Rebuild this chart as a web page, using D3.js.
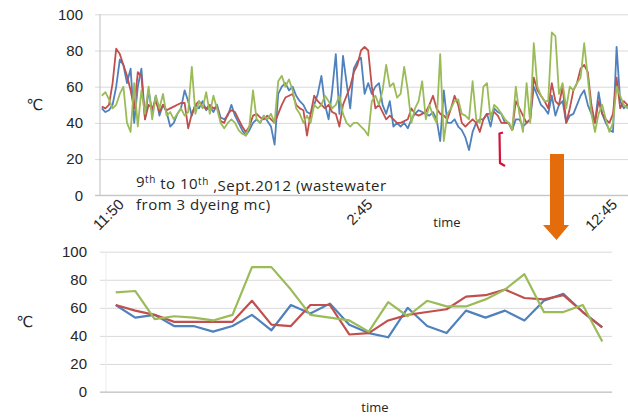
<!doctype html>
<html lang="en">
<head>
<meta charset="utf-8">
<title>Wastewater temperature</title>
<script src="https://cdn.jsdelivr.net/npm/d3@7"></script>
<style>
  body { margin: 0; background: #fff; }
  svg { display: block; font-family: "Open Sans", "DejaVu Sans", sans-serif; }
  .grid line { stroke: #d9d9d9; stroke-width: 1; }
  .grid path { display: none; }
  .lbl path, .lbl line { display: none; }
  .lbl text { fill: #262626; font-size: 15px; }
</style>
</head>
<body>
<svg width="628" height="417"></svg>
<script>
// ---- data ----
// upper chart: three machines, 9th to 10th Sept 2012
const topBlue = [
  48, 46, 47, 50, 60, 75, 72, 62, 70, 40,
  60, 70, 42, 58, 46, 55, 44, 50, 46, 38,
  40, 45, 48, 58, 52, 44, 50, 48, 52, 47,
  49, 46, 50, 43, 42, 44, 50, 44, 40, 36,
  33, 36, 40, 42, 40, 44, 41, 38, 28, 56,
  60, 62, 58, 60, 55, 52, 50, 46, 45, 50,
  56, 66, 50, 42, 58, 78, 45, 77, 62, 48,
  70, 74, 76, 56, 62, 56, 60, 62, 50, 45,
  52, 38, 40, 38, 40, 37, 42, 45, 47, 46,
  45, 44, 46, 42, 30, 58, 40, 40, 42, 38,
  36, 32, 25, 35, 40, 42, 42, 45, 38, 48,
  46, 45, 40, 40, 36, 42, 42, 38, 40, 42,
  60, 55, 50, 48, 45, 55, 44, 50, 52, 40,
  44, 45, 50, 55, 58, 50, 45, 40, 57, 45,
  40, 36, 35, 82, 52, 48, 50, 46, 50, 48
];
const topRed = [
  49, 48, 50, 62, 81, 78, 72, 66, 58, 48,
  68, 66, 42, 50, 48, 52, 46, 50, 47, 48,
  49, 50, 51, 51, 37, 45, 50, 52, 49, 48,
  50, 48, 49, 41, 40, 45, 47, 46, 42, 38,
  35, 38, 44, 45, 43, 42, 44, 42, 40, 45,
  50, 54, 55, 56, 50, 48, 47, 33, 45, 55,
  52, 50, 48, 50, 46, 45, 38, 50, 55, 60,
  68, 72, 80, 82, 80, 60, 48, 50, 46, 42,
  44, 42, 40, 40, 41, 42, 48, 45, 44, 45,
  46, 50, 55, 48, 45, 44, 42, 48, 55, 50,
  40, 38, 40, 42, 40, 35, 42, 45, 45, 46,
  44, 40, 40, 40, 36, 52, 48, 44, 40, 42,
  65, 58, 55, 52, 48, 62, 52, 50, 60, 40,
  48, 58, 62, 70, 72, 68, 50, 40, 52, 45,
  42, 40, 45, 65, 48, 52, 50, 48, 50, 47
];
const topGreen = [
  55, 57, 53, 48, 50, 56, 60, 40, 35, 62,
  38, 58, 45, 60, 42, 55, 48, 56, 44, 46,
  42, 45, 48, 44, 46, 71, 45, 52, 48, 57,
  45, 55, 48, 40, 37, 40, 42, 40, 36, 34,
  33, 38, 58, 42, 40, 44, 42, 45, 40, 63,
  66, 60, 64, 58, 48, 45, 40, 44, 40, 50,
  48, 50, 55, 52, 48, 50, 55, 45, 40, 38,
  40, 40, 38, 36, 33, 52, 55, 50, 58, 72,
  60, 62, 54, 56, 71, 58, 40, 48, 52, 63,
  42, 50, 44, 40, 78, 30, 45, 48, 52, 53,
  45, 44, 42, 63, 42, 40, 60, 62, 42, 50,
  48, 45, 42, 40, 36, 60, 45, 35, 62, 40,
  84, 60, 55, 52, 52, 90, 88, 56, 62, 48,
  60, 58, 62, 65, 84, 65, 45, 35, 45, 50,
  42, 35, 40, 60, 55, 50, 48, 52, 50, 52
];
const topTickIdx = [6, 75, 143];
const topTickLabels = ["11:50", "2:45", "12:45"];

// lower chart: the zoomed part
const botBlue  = [62, 53, 55, 47, 47, 43, 47, 55, 44, 62, 56, 63, 48, 42, 39, 60, 47, 42, 58, 53, 58, 51, 65, 70, 57, 46];
const botRed   = [62, 58, 55, 50, 50, 50, 50, 65, 48, 47, 62, 62, 41, 42, 51, 55, 57, 59, 68, 69, 73, 67, 66, 69, 57, 46];
const botGreen = [71, 72, 52, 54, 53, 51, 55, 89, 89, 73, 55, 53, 51, 43, 64, 54, 65, 61, 61, 66, 73, 84, 57, 57, 62, 36];

const yTicks = [0, 20, 40, 60, 80, 100];
const colors = { blue: "#4f81bd", red: "#c0504d", green: "#9bbb59" };

// ---- drawing ----
const svg = d3.select("svg");

function panel(opt) {
  const n = opt.series[0].values.length;
  const x = d3.scalePoint().domain(d3.range(n)).range([opt.left, opt.right]).padding(0.5);
  const y = d3.scaleLinear().domain([0, 100]).range([opt.bottom, opt.top]);

  // gridlines (with the small outside ticks)
  svg.append("g").attr("class", "grid")
    .attr("transform", "translate(" + opt.gridLeft + ",0)")
    .call(d3.axisLeft(y).tickValues(yTicks).tickSize(-(opt.gridRight - opt.gridLeft)).tickFormat(""));

  // value axis line
  svg.append("line")
    .attr("x1", opt.left).attr("x2", opt.left)
    .attr("y1", y(100)).attr("y2", y(0))
    .attr("stroke", opt.axisColor);

  // bottom axis line
  svg.append("line")
    .attr("x1", opt.gridLeft).attr("x2", opt.gridRight)
    .attr("y1", y(0)).attr("y2", y(0))
    .attr("stroke", "#bfbfbf");

  // value labels
  svg.append("g").attr("class", "lbl")
    .attr("transform", "translate(" + opt.labelX + ",0)")
    .call(d3.axisLeft(y).tickValues(yTicks).tickSize(0).tickPadding(0));

  const line = d3.line().x((d, i) => x(i)).y(d => y(d));
  opt.series.forEach(s => {
    svg.append("path")
      .datum(s.values)
      .attr("d", line)
      .attr("fill", "none")
      .attr("stroke", s.color)
      .attr("stroke-width", opt.lineWidth)
      .attr("stroke-linejoin", "round");
  });

  svg.append("text")
    .attr("x", opt.unitX).attr("y", (opt.top + opt.bottom) / 2)
    .attr("dy", "0.35em")
    .attr("text-anchor", "middle")
    .style("font-size", "15px").style("fill", "#262626")
    .text("\u2103");

  return { x, y };
}

const up = panel({
  left: 100, right: 640, top: 14.3, bottom: 195.3,
  gridLeft: 95, gridRight: 640, labelX: 83, unitX: 35, axisColor: "#bfbfbf",
  lineWidth: 1.8,
  series: [
    { values: topBlue, color: colors.blue },
    { values: topRed, color: colors.red },
    { values: topGreen, color: colors.green }
  ]
});

// rotated time labels
svg.append("g").attr("class", "lbl")
  .attr("transform", "translate(0,195.3)")
  .call(d3.axisBottom(up.x).tickValues(topTickIdx).tickSize(0)
    .tickFormat(i => topTickLabels[topTickIdx.indexOf(i)]))
  .selectAll("text")
  .attr("y", 0).attr("dy", 0)
  .attr("transform", "translate(1,10) rotate(-45)")
  .style("text-anchor", "end");

svg.append("text")
  .attr("x", 447).attr("y", 227)
  .attr("text-anchor", "middle")
  .style("font-size", "13px").style("fill", "#262626")
  .text("time");

// annotation text
const note = svg.append("text")
  .attr("x", 136).attr("y", 187)
  .style("font-size", "15px").style("letter-spacing", "0.5px").style("fill", "#262626");
note.append("tspan").text("9");
note.append("tspan").attr("dy", "-0.4em").style("font-size", "10px").text("th");
note.append("tspan").attr("dy", "0.4em").text(" to 10");
note.append("tspan").attr("dy", "-0.4em").style("font-size", "10px").text("th");
note.append("tspan").attr("dy", "0.4em").text(" ,Sept.2012 (wastewater");
svg.append("text")
  .attr("x", 136).attr("y", 209.5)
  .style("font-size", "15px").style("letter-spacing", "0.5px").style("fill", "#262626")
  .text("from 3 dyeing mc)");

// red bracket marking the zoomed span
svg.append("path")
  .attr("d", "M503,132.5 L499.5,133.5 L500,163 L505,166")
  .attr("fill", "none").attr("stroke", "#d2143a").attr("stroke-width", 2.2);

// orange arrow
svg.append("path")
  .attr("d", "M550,154 L564,154 L564,225 L569,225 L556.5,240 L543,225 L550,225 Z")
  .attr("fill", "#e46c0a");

panel({
  left: 106, right: 612, top: 251.7, bottom: 392,
  gridLeft: 100, gridRight: 612, labelX: 87, unitX: 25, axisColor: "#ececec",
  lineWidth: 2.2,
  series: [
    { values: botBlue, color: colors.blue },
    { values: botRed, color: colors.red },
    { values: botGreen, color: colors.green }
  ]
});

svg.append("text")
  .attr("x", 375).attr("y", 412)
  .attr("text-anchor", "middle")
  .style("font-size", "13px").style("fill", "#262626")
  .text("time");
</script>
</body>
</html>
